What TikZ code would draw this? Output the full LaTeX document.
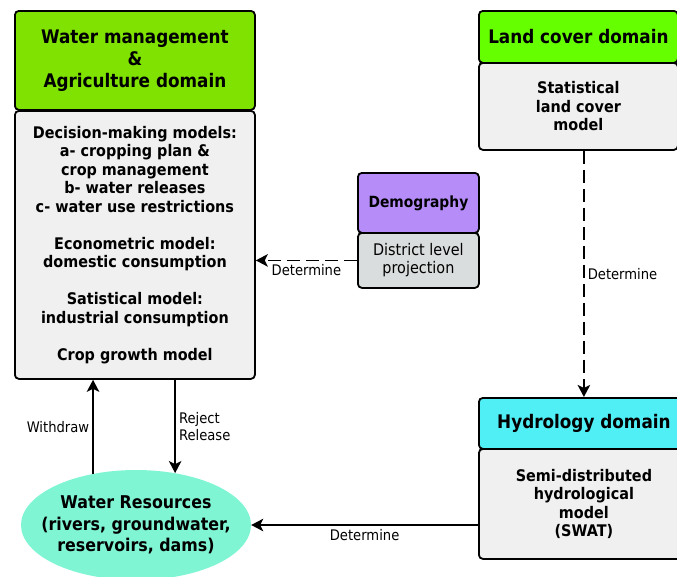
\documentclass[tikz,border=0pt]{standalone}
\usepackage{fontspec}
\setmainfont{DejaVu Sans}[FakeStretch=0.9]
\usetikzlibrary{arrows.meta,shapes.geometric}
\definecolor{greenA}{RGB}{128,226,0}
\definecolor{greenB}{RGB}{102,255,0}
\definecolor{purpleD}{RGB}{181,140,248}
\definecolor{cyanH}{RGB}{80,238,245}
\definecolor{aquaW}{RGB}{128,245,212}
\definecolor{bodyG}{RGB}{240,240,240}
\definecolor{bodyD}{RGB}{218,221,221}
\tikzset{
  box/.style={draw=black, line width=1.8pt, rounded corners=4pt, inner sep=0pt, align=center, anchor=north west},
  headfont/.style={font=\fontsize{18.7}{22}\selectfont\bfseries},
  bodyfont/.style={font=\fontsize{16}{18.5}\selectfont\bfseries},
  lbl/.style={font=\fontsize{14.6}{17}\selectfont, inner sep=3pt},
  arr/.style={line width=1.8pt, -{Stealth[length=12pt,width=12.5pt,inset=3pt]}},
  dasharr/.style={arr, dash pattern=on 13pt off 6pt}
}
\begin{document}
\begin{tikzpicture}[x=1pt,y=-1pt]
\useasboundingbox (0,0) rectangle (677,576);
% left domain
\node[box, fill=greenA, minimum width=240, minimum height=99, headfont] (wh) at (14,10) {Water management\\\&\\Agriculture domain};
\node[box, fill=bodyG, minimum width=240, minimum height=268, bodyfont] (lb) at (14,110) {Decision-making models:\\a- cropping plan \&\\crop management\\b- water releases\\c- water use restrictions\\[18.5pt]Econometric model:\\domestic consumption\\[18.5pt]Satistical model:\\industrial consumption\\[18.5pt]Crop growth model};
% land cover
\node[box, fill=greenB, minimum width=199, minimum height=52, headfont] (lc) at (478,10) {Land cover domain};
\node[box, fill=bodyG, minimum width=199, minimum height=87, bodyfont] (lcb) at (478,62) {Statistical\\land cover\\model};
% demography
\node[box, fill=purpleD, minimum width=121, minimum height=60, font=\fontsize{15.4}{18}\selectfont\bfseries] (dem) at (357,172) {Demography};
\node[box, fill=bodyD, minimum width=121, minimum height=55, font=\fontsize{16}{18}\selectfont] (demb) at (357,232) {District level\\projection};
% hydrology
\node[box, fill=cyanH, minimum width=210, minimum height=51, headfont] (hyd) at (478,397) {Hydrology domain};
\node[box, fill=bodyG, minimum width=210, minimum height=110, bodyfont] (hydb) at (478,448) {Semi-distributed\\hydrological\\model\\(SWAT)};
% water resources
\node[ellipse, fill=aquaW, minimum width=230, minimum height=110, inner xsep=-20pt, inner ysep=0pt, align=center, font=\fontsize{17.6}{21.5}\selectfont\bfseries] (wr) at (136,525) {Water Resources\\(rivers, groundwater,\\reservoirs, dams)};
% connectors
\draw[dasharr] (demb.west) -- node[lbl, below] {Determine} (demb.west -| lb.east);
\draw[dasharr] (hyd.north |- lcb.south) -- node[lbl, right] {Determine} (hyd.north);
\draw[arr] (hydb.west |- wr.east) -- node[lbl, below] {Determine} (wr.east);
\draw[arr] (wr.130) -- node[lbl, left] {Withdraw} (wr.130 |- lb.south);
\draw[arr] (lb.south -| wr.53) -- node[lbl, right, align=left] {Reject\\Release} (wr.53);
\end{tikzpicture}
\end{document}
